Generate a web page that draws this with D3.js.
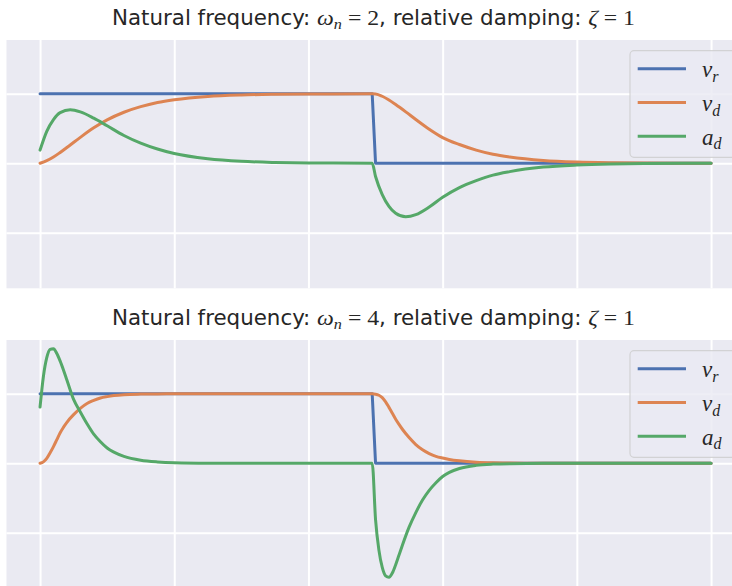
<!DOCTYPE html>
<html>
<head>
<meta charset="utf-8">
<script src="https://cdn.jsdelivr.net/npm/d3@7"></script>
<style>
  body { margin: 0; background: #fff; }
</style>
</head>
<body>
<svg id="chart" width="732" height="586"></svg>
<script>
// time samples and series
const tA = [0, 0.1, 0.2, 0.3, 0.45, 0.6, 0.8, 1.0, 1.25, 1.5, 1.75, 2.0, 2.5, 3.0, 3.5, 4.0, 4.95,
            5.0, 5.1, 5.2, 5.3, 5.45, 5.6, 5.8, 6.0, 6.25, 6.5, 6.75, 7.0, 7.5, 8.0, 8.5, 9.0, 10.0];
const vrA = [1, 1, 1, 1, 1, 1, 1, 1, 1, 1, 1, 1, 1, 1, 1, 1, 1,
             0, 0, 0, 0, 0, 0, 0, 0, 0, 0, 0, 0, 0, 0, 0, 0, 0];
const vdA = [0, 0.037, 0.09, 0.156, 0.264, 0.373, 0.51, 0.625, 0.735, 0.815, 0.875, 0.915, 0.963, 0.984, 0.993, 0.997, 1.0,
             0.998, 0.965, 0.91, 0.845, 0.74, 0.63, 0.49, 0.37, 0.27, 0.19, 0.13, 0.09, 0.04, 0.017, 0.007, 0.003, 0];
const adA = [0.19, 0.46, 0.63, 0.73, 0.77, 0.74, 0.65, 0.54, 0.40, 0.29, 0.205, 0.14, 0.065, 0.028, 0.012, 0.005, 0,
             -0.19, -0.45, -0.62, -0.72, -0.77, -0.74, -0.63, -0.49, -0.35, -0.25, -0.17, -0.12, -0.055, -0.025, -0.01, -0.004, 0];

const tB = [0, 0.05, 0.1, 0.15, 0.2, 0.25, 0.3, 0.35, 0.4, 0.5, 0.6, 0.7, 0.8, 0.9, 1.0, 1.1, 1.25, 1.5, 1.75, 2.0, 2.5, 3.0, 4.95,
            5.0, 5.05, 5.1, 5.15, 5.2, 5.25, 5.3, 5.35, 5.4, 5.5, 5.6, 5.7, 5.8, 5.9, 6.0, 6.1, 6.25, 6.5, 6.75, 7.0, 7.5, 8.0, 10.0];
const vrB = [1, 1, 1, 1, 1, 1, 1, 1, 1, 1, 1, 1, 1, 1, 1, 1, 1, 1, 1, 1, 1, 1, 1,
             0, 0, 0, 0, 0, 0, 0, 0, 0, 0, 0, 0, 0, 0, 0, 0, 0, 0, 0, 0, 0, 0, 0];
const vdB = [0, 0.02, 0.07, 0.15, 0.24, 0.34, 0.44, 0.52, 0.59, 0.70, 0.79, 0.86, 0.905, 0.94, 0.96, 0.975, 0.988, 0.996, 0.999, 1.0, 1.0, 1.0, 1.0,
             0.995, 0.98, 0.945, 0.885, 0.805, 0.72, 0.635, 0.56, 0.49, 0.37, 0.27, 0.195, 0.14, 0.10, 0.075, 0.055, 0.035, 0.015, 0.006, 0.003, 0.001, 0, 0];
const adB = [0.81, 1.25, 1.52, 1.64, 1.65, 1.58, 1.47, 1.34, 1.20, 0.92, 0.74, 0.57, 0.42, 0.31, 0.22, 0.16, 0.10, 0.045, 0.02, 0.008, 0.001, 0, 0,
             -0.81, -1.25, -1.50, -1.62, -1.64, -1.58, -1.46, -1.32, -1.18, -0.92, -0.71, -0.53, -0.39, -0.28, -0.19, -0.13, -0.075, -0.03, -0.012, -0.005, -0.001, 0, 0];

const xTicks = [0, 2, 4, 6, 8, 10];
const yTicks = [-1, 0, 1];
const omegas = ["2", "4"];
const seriesNames = [["v", "r"], ["v", "d"], ["a", "d"]];
const colors = ["#4C72B0", "#DD8452", "#55A868"];

const panels = [
  { t: tA, series: [vrA, vdA, adA], omega: omegas[0], top: 40 },
  { t: tB, series: [vrB, vdB, adB], omega: omegas[1], top: 340 }
];

const svg = d3.select("#chart");
const axH = 248.3;
const x = d3.scaleLinear().domain([-0.5, 10.5]).range([6.5, 744.6]);
const sans = "'Liberation Sans Narrow', 'DejaVu Sans Condensed', 'Liberation Sans', sans-serif";
const serif = "'Liberation Serif', 'DejaVu Serif', serif";

panels.forEach((p, i) => {
  const y = d3.scaleLinear().domain([-1.8, 1.775]).range([p.top + axH, p.top]);
  const g = svg.append("g");

  g.append("clipPath").attr("id", "clip" + i)
    .append("rect")
    .attr("x", x.range()[0]).attr("y", p.top)
    .attr("width", x.range()[1] - x.range()[0]).attr("height", axH);

  g.append("rect")
    .attr("x", x.range()[0]).attr("y", p.top)
    .attr("width", x.range()[1] - x.range()[0]).attr("height", axH)
    .attr("fill", "#EAEAF2");

  // grid
  g.append("g")
    .attr("transform", `translate(0,${p.top + axH})`)
    .call(d3.axisBottom(x).tickValues(xTicks).tickSize(-axH).tickFormat(""))
    .call(a => a.select(".domain").remove())
    .selectAll("line").attr("stroke", "#fff").attr("stroke-width", 2);
  g.append("g")
    .attr("transform", `translate(${x.range()[0]},0)`)
    .call(d3.axisLeft(y).tickValues(yTicks).tickSize(-(x.range()[1] - x.range()[0])).tickFormat(""))
    .call(a => a.select(".domain").remove())
    .selectAll("line").attr("stroke", "#fff").attr("stroke-width", 2);

  const plot = g.append("g").attr("clip-path", `url(#clip${i})`);
  p.series.forEach((vals, k) => {
    const line = d3.line()
      .x((d, j) => x(p.t[j]))
      .y(d => y(d))
      .curve(k === 0 ? d3.curveLinear : d3.curveMonotoneX);
    plot.append("path")
      .datum(vals)
      .attr("d", line)
      .attr("fill", "none")
      .attr("stroke", colors[k])
      .attr("stroke-width", 3)
      .attr("stroke-linejoin", "round")
      .attr("stroke-linecap", "round");
  });

  // title
  const title = g.append("text")
    .attr("x", 112).attr("y", p.top - 15)
    .attr("font-size", 22).attr("fill", "#262626")
    .attr("textLength", 523).attr("lengthAdjust", "spacingAndGlyphs");
  title.append("tspan").attr("font-family", sans).text("Natural frequency: ");
  title.append("tspan").attr("font-family", serif).attr("font-style", "italic").text("ω");
  title.append("tspan").attr("font-family", serif).attr("font-style", "italic")
    .attr("font-size", 15).attr("dy", 4).text("n");
  title.append("tspan").attr("font-family", serif).attr("dy", -4).text(" = " + p.omega);
  title.append("tspan").attr("font-family", sans).text(", relative damping: ");
  title.append("tspan").attr("font-family", serif).attr("font-style", "italic").text("ζ");
  title.append("tspan").attr("font-family", serif).text(" = 1");

  // legend
  const lg = g.append("g");
  lg.append("rect")
    .attr("x", 630).attr("y", p.top + 10.7)
    .attr("width", 140).attr("height", 106.6)
    .attr("rx", 4)
    .attr("fill", "rgba(234,234,242,0.8)")
    .attr("stroke", "rgba(204,204,204,0.8)")
    .attr("stroke-width", 1.2);
  seriesNames.forEach((nm, k) => {
    const ly = p.top + 28.7 + k * 33.8;
    lg.append("line")
      .attr("x1", 637.7).attr("x2", 686)
      .attr("y1", ly).attr("y2", ly)
      .attr("stroke", colors[k]).attr("stroke-width", 3);
    const tx = lg.append("text")
      .attr("x", 702).attr("y", ly + 8.5)
      .attr("font-family", serif).attr("font-style", "italic")
      .attr("font-size", 23).attr("fill", "#262626");
    tx.append("tspan").text(nm[0]);
    tx.append("tspan").attr("font-size", 16).attr("dy", 4.5).text(nm[1]);
  });
});
</script>
</body>
</html>
